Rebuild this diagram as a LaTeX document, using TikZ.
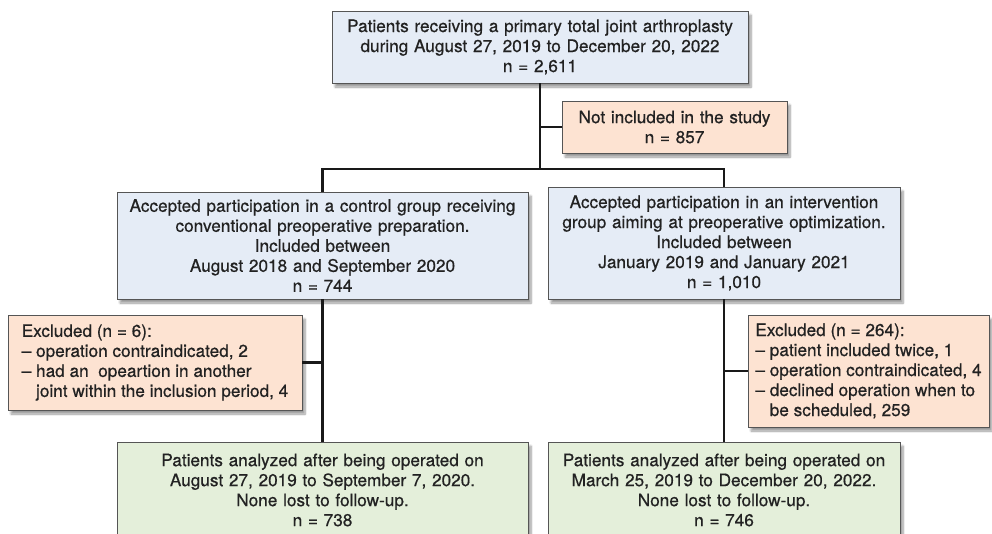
\documentclass[tikz,border=0pt]{standalone}
\usepackage{fontspec}
\setmainfont[FakeBold=0.6]{TeX Gyre Heros}
\usetikzlibrary{shadows.blur}
\definecolor{boxline}{HTML}{555555}
\definecolor{txt}{HTML}{222222}
\definecolor{bluefill}{HTML}{E5ECF6}
\definecolor{orangefill}{HTML}{FDE3D2}
\definecolor{greenfill}{HTML}{E4EFDA}
\tikzstyle{box}=[rectangle,draw=boxline,line width=0.9pt,text=txt,inner xsep=6pt,inner ysep=0pt,align=center,font=\fontsize{17.2}{20}\selectfont,blur shadow={shadow xshift=3pt,shadow yshift=-4pt,shadow blur steps=8}]
\tikzstyle{group}=[box,fill=bluefill]
\tikzstyle{excluded}=[box,fill=orangefill,align=left]
\tikzstyle{analyzed}=[box,fill=greenfill]
\tikzstyle{link}=[line width=2.8pt,draw=black!90]
\begin{document}
\begin{tikzpicture}[x=1pt,y=-1pt]
\clip (0,0) rectangle (992,533);

\node (top) [group,text width=404pt,minimum height=72pt] at (540,47) {Patients receiving a primary total joint arthroplasty\\during August 27, 2019 to December 20, 2022\\n = 2,611};
\node (notinc) [excluded,align=center,text width=213pt,minimum height=52pt] at (674.5,127) {Not included in the study\\n = 857};

\node (ctrl) [group,text width=399pt,minimum height=107pt] at (322.5,245.5) {Accepted participation in a control group receiving\\conventional preoperative preparation.\\Included between\\August 2018 and September 2020\\n = 744};
\node (interv) [group,text width=340pt,minimum height=112pt] at (724,243) {Accepted participation in an intervention\\group aiming at preoperative optimization.\\Included between\\January 2019 and January 2021\\n = 1,010};

\node (exclc) [excluded,minimum width=294pt,minimum height=95pt] at (155,362.5) {Excluded (n = 6):\\– operation contraindicated, 2\\– had an~ opeartion in another\\\hphantom{– }joint within the inclusion period, 4};
\node (excli) [excluded,minimum width=241pt,minimum height=112pt] at (868.5,371) {Excluded (n = 264):\\– patient included twice, 1\\– operation contraindicated, 4\\– declined operation when to\\\hphantom{– }be scheduled, 259};

\node (anac) [analyzed,text width=399pt,minimum height=96pt] at (322.5,490) {Patients analyzed after being operated on\\August 27, 2019 to September 7, 2020.\\None lost to follow-up.\\n = 738};
\node (anai) [analyzed,text width=340pt,minimum height=96pt] at (724,490) {Patients analyzed after being operated on\\March 25, 2019 to December 20, 2022.\\None lost to follow-up.\\n = 746};

\coordinate (fork) at (540,169);
\draw [link] (top.south) -- (fork);
\draw [link] (ctrl.north) |- (fork) -| (interv.north);
\draw [link] (notinc.west) -- (notinc.west -| fork);
\draw [link] (ctrl.south) -- (anac.north);
\draw [link] (exclc.east) -- (exclc.east -| ctrl.south);
\draw [link] (interv.south) -- (anai.north);
\draw [link] (excli.west) -- (excli.west -| interv.south);

\end{tikzpicture}
\end{document}
